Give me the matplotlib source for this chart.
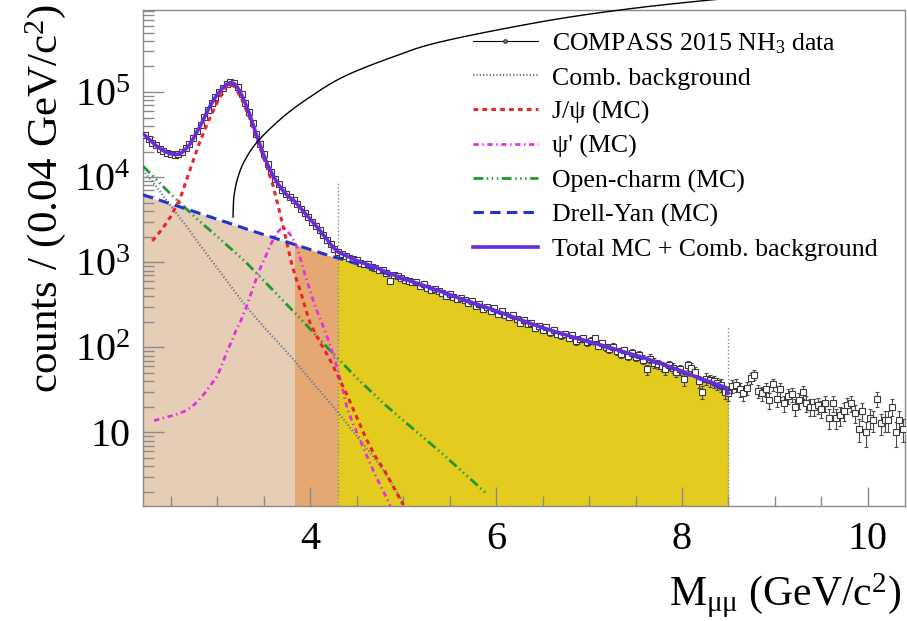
import numpy as np
import matplotlib
matplotlib.use("Agg")
import matplotlib.pyplot as plt
from matplotlib.lines import Line2D
from matplotlib.patches import Rectangle
from matplotlib.ticker import MultipleLocator, LogLocator, NullFormatter

plt.rcParams['font.family'] = ['Liberation Serif', 'DejaVu Serif']
plt.rcParams['mathtext.fontset'] = 'custom'
plt.rcParams['mathtext.rm'] = 'Liberation Serif'
plt.rcParams['mathtext.it'] = 'Liberation Serif:italic'
plt.rcParams['mathtext.bf'] = 'Liberation Serif:bold'
plt.rcParams['lines.scale_dashes'] = False

# ---------------- data ----------------
BIN_LO = 2.2
BIN_W = 0.04
counts = [
    31000, 28000, 25500, 23600, 21500, 20200, 19300, 18600, 18300, 18900,
    19800, 21800, 24500, 28800, 34500, 41000, 50500, 62000, 74500, 88000,
    101000, 113000, 124000, 130000, 127000, 114000, 94000, 75000, 58500, 43500,
    32000, 24300, 18500, 14300, 11600, 9600, 8200, 7100, 6350, 5800,
    5350, 4800, 4250, 3820, 3400, 3000, 2700, 2380, 2100, 1850,
    1640, 1430, 1310, 1240, 1190, 1120, 1080, 1060, 980, 960,
    950, 880, 860, 820, 815, 740, 600, 700, 690, 650,
    625, 600, 590, 580, 520, 560, 500, 470, 490, 455,
    430, 405, 420, 395, 375, 380, 365, 330, 350, 310,
    320, 285, 300, 270, 290, 250, 265, 240, 225, 240,
    215, 195, 210, 190, 195, 170, 180, 162, 172, 150,
    160, 145, 138, 145, 130, 140, 118, 126, 128, 115,
    120, 130, 105, 112, 100, 95, 102, 90, 84, 92,
    80, 86, 78, 82, 72, 55, 74, 66, 64, 60,
    55, 62, 58, 52, 55, 42, 62, 58, 52, 40,
    30, 43, 41, 40, 38, 36, 30, 29, 35, 36,
    32, 29, 33, 44, 48, 31, 29, 32, 24, 37,
    25, 32, 22, 27, 28, 20, 24, 30, 22, 20,
    20, 21, 19, 22, 15, 22, 15, 16, 18, 21,
    22, 17, 11, 18, 10, 15, 14, 25, 13, 14,
    14, 20, 10, 14, 11,
]

total_m = [2.20, 2.22, 2.26, 2.30, 2.34, 2.38, 2.42, 2.46, 2.50, 2.54, 2.58, 2.62,
           2.66, 2.70, 2.74, 2.78, 2.82, 2.86, 2.90, 2.94, 2.98, 3.02, 3.06, 3.10,
           3.14, 3.18, 3.22, 3.26, 3.30, 3.34, 3.38, 3.42, 3.46, 3.50, 3.54, 3.58,
           3.62, 3.66, 3.70, 3.74, 3.78, 3.82, 3.86, 3.90, 3.94, 3.98, 4.02, 4.06,
           4.10, 4.14, 4.18, 4.22, 4.26, 4.30, 4.40, 4.50, 4.60, 4.70, 4.80, 4.90,
           5.00, 5.20, 5.40, 5.60, 5.80, 6.00, 6.20, 6.40, 6.60, 6.80, 7.00, 7.20,
           7.40, 7.60, 7.80, 8.00, 8.20, 8.30, 8.40, 8.46, 8.50]
total_v = [32000, 30900, 28200, 25700, 23400, 21900, 20400, 19500, 18800, 18500, 18600, 19500,
           21400, 24000, 28200, 33900, 40700, 50100, 61700, 74100, 87100, 100000, 112000, 123000,
           129000, 126000, 112000, 93300, 74100, 57500, 42700, 31600, 24000, 18200, 14100, 11500,
           9550, 8130, 7080, 6310, 5750, 5370, 4790, 4270, 3800, 3390, 3020, 2690,
           2400, 2090, 1860, 1620, 1450, 1320, 1175, 1047, 955, 871, 785, 708,
           646, 543, 457, 380, 320, 269, 224, 186, 157, 135, 117, 101,
           87, 75, 63, 52.5, 43, 39.5, 36, 34, 29]

dy_m = [2.20, 2.60, 3.00, 3.40, 3.80, 4.20, 4.30, 4.60, 5.00, 5.40, 5.80, 6.20,
        6.60, 7.00, 7.40, 7.80, 8.20, 8.40, 8.50]
dy_v = [6200, 4470, 3200, 2290, 1660, 1200, 1120, 890, 630, 447, 313, 219,
        155, 115, 85, 61.7, 42.2, 34, 28]

oc_m = [2.20, 2.50, 2.80, 3.00, 3.30, 3.60, 3.90, 4.20, 4.50, 4.80, 5.10, 5.40, 5.70, 5.90]
oc_v = [13500, 6300, 3090, 2000, 1020, 468, 214, 95.5, 43.7, 21.4, 11.2, 5.9, 3.0, 1.9]

comb_m = [2.20, 2.35, 2.50, 2.67, 2.80, 3.00, 3.28, 3.50, 3.82, 4.00, 4.29, 4.50,
          4.68, 4.80, 4.90, 5.00]
comb_v = [12000, 7600, 4570, 2630, 1660, 851, 331, 174, 72, 41.7, 17.7, 9.1,
          5.2, 3.4, 2.3, 1.5]

jpsi_m = [2.30, 2.40, 2.50, 2.60, 2.70, 2.80, 2.90, 3.00, 3.05, 3.10, 3.14, 3.18,
          3.22, 3.26, 3.30, 3.35, 3.40, 3.45, 3.50, 3.55, 3.60, 3.65, 3.70, 3.75,
          3.80, 3.85, 3.90, 3.95, 4.00, 4.10, 4.20, 4.30, 4.40, 4.50, 4.60, 4.70,
          4.80, 4.90, 5.00]
jpsi_v = [1780, 2400, 3470, 5620, 11700, 24000, 44700, 75900, 95500, 115000, 123000, 117000,
          100000, 83200, 66100, 49000, 33900, 23400, 16600, 11700, 7940, 4790, 2880, 1660,
          955, 631, 437, 282, 191, 117, 75.9, 45.7, 26.9, 15.1, 8.5, 5.25,
          3.55, 2.24, 1.41]

psi2_m = [2.32, 2.45, 2.55, 2.65, 2.73, 2.80, 2.87, 2.93, 3.00, 3.05, 3.10, 3.16,
          3.20, 3.25, 3.32, 3.41, 3.47, 3.52, 3.58, 3.63, 3.68, 3.72, 3.76, 3.80,
          3.85, 3.90, 3.95, 4.00, 4.05, 4.10, 4.15, 4.20, 4.25, 4.30, 4.35, 4.40,
          4.50, 4.60, 4.70, 4.80, 4.86]
psi2_v = [13.8, 15.1, 16.2, 17.8, 20.2, 24, 29.5, 36.3, 46, 63, 87, 123,
          158, 202, 316, 603, 891, 1175, 1660, 2140, 2450, 2510, 2290, 2000,
          1585, 1047, 676, 457, 309, 224, 166, 117, 79.4, 52.5, 31.6, 18.6,
          10, 5.6, 3.16, 1.9, 1.38]

# mass-range regions (low / intermediate / high) and their boundary markers
region_edges = [(2.20, 3.82), (3.835, 4.30), (4.30, 8.50)]
region_colors = ['#E6CDB6', '#E5A872', '#E3CC1F']
marker_m = [4.30, 8.50]
marker_top = [8700, 177]

labels = ['COMPASS 2015 NH$_3$ data', 'Comb. background', 'J/\u03c8 (MC)',
          "\u03c8' (MC)", 'Open-charm (MC)', 'Drell-Yan (MC)',
          'Total MC + Comb. background']

XMIN, XMAX = 2.2, 10.4
YMIN, YMAX = 1.38, 9.2e5

# ---------------- figure ----------------
W, H = 907, 621
fig = plt.figure(figsize=(W / 100, H / 100), dpi=100)
ax = fig.add_axes([143 / W, 1 - 505.7 / H, (905 - 143) / W, (505.7 - 10) / H])
ax.set_yscale('log')
ax.set_xlim(XMIN, XMAX)
ax.set_ylim(YMIN, YMAX)

# filled Drell-Yan regions
for (a, b), col in zip(region_edges, region_colors):
    poly = ax.fill_between(dy_m, dy_v, YMIN, color=col, lw=0, zorder=1)
    clip = Rectangle((a, YMIN * 0.5), b - a, YMAX * 10, transform=ax.transData)
    poly.set_clip_path(clip)

for m, top in zip(marker_m, marker_top):
    ax.plot([m, m], [YMIN, top], color='#8a8a8a', ls=(0, (1.0, 1.6)), lw=1.0, zorder=2)

centers = BIN_LO + BIN_W * (np.arange(len(counts)) + 0.5)
cnt = np.array(counts, float)
ax.errorbar(centers, cnt, yerr=np.sqrt(cnt), fmt='s', ms=4.0, mfc='white',
            mec='#3a3a3a', mew=0.8, ecolor='#4a4a4a', elinewidth=0.8,
            capsize=1.6, capthick=0.8, zorder=3)

ax.plot(comb_m, comb_v, color='#6C7C8C', lw=1.6, ls=(0, (0.9, 1.5)), zorder=4)
ax.plot(oc_m, oc_v, color='#1E9B2E', lw=2.0,
        ls=(0, (7, 2.6, 1, 2.6, 1, 2.6, 1, 2.6)), zorder=4)
ax.plot(psi2_m, psi2_v, color='#E033E0', lw=2.0, ls=(0, (3.8, 2.6, 1, 2.6)), zorder=4)
ax.plot(jpsi_m, jpsi_v, color='#E8262B', lw=2.2, ls=(0, (3.4, 3.0)), zorder=5)
ax.plot(dy_m, dy_v, color='#2233CC', lw=2.2, ls=(0, (7.5, 4.5)), zorder=5)
ax.plot(total_m, total_v, color='#6A2BDB', lw=2.6, zorder=6)

# axes styling
for s in ax.spines.values():
    s.set_color('#8a8a8a')
    s.set_linewidth(1.0)
ax.set_xticks([4, 6, 8, 10])
ax.set_xticklabels(['4', '6', '8', '10'])
ax.xaxis.set_minor_locator(MultipleLocator(0.5))
ax.set_yticks([10, 1e2, 1e3, 1e4, 1e5])
ax.set_yticklabels(['10', '10$^{2}$', '10$^{3}$', '10$^{4}$', '10$^{5}$'])
ax.yaxis.set_minor_locator(LogLocator(base=10, subs=np.arange(2, 10)))
ax.yaxis.set_minor_formatter(NullFormatter())
ax.tick_params(axis='both', which='both', direction='in', color='#8a8a8a',
               labelcolor='black', top=False, right=False, labelsize=29)
ax.tick_params(axis='x', which='major', length=14, width=1.0, pad=11)
ax.tick_params(axis='x', which='minor', length=7, width=1.0)
ax.tick_params(axis='y', which='major', length=15, width=1.0, pad=9)
ax.tick_params(axis='y', which='minor', length=8, width=1.0)

fig.text(901 / W, 1 - 606 / H, r'M$_{\mathrm{\mu\mu}}$ (GeV/c$^{2}$)',
         ha='right', va='baseline', fontsize=30)
fig.text(46 / W, 1 - 4 / H, 'counts / (0.04 GeV/c$^{2}$)', rotation=90,
         ha='center', va='top', fontsize=31)

# legend
handles = [
    Line2D([], [], color='black', lw=0.8, marker='o', ms=2.5, mfc='#888888', mec='#444444'),
    Line2D([], [], color='#6C7C8C', lw=1.6, ls=(0, (0.9, 1.5))),
    Line2D([], [], color='#E8262B', lw=2.2, ls=(0, (3.4, 3.0))),
    Line2D([], [], color='#E033E0', lw=2.0, ls=(0, (3.8, 2.6, 1, 2.6))),
    Line2D([], [], color='#1E9B2E', lw=2.0, ls=(0, (7, 2.6, 1, 2.6, 1, 2.6, 1, 2.6))),
    Line2D([], [], color='#2233CC', lw=2.2, ls=(0, (7.5, 4.5))),
    Line2D([], [], color='#6A2BDB', lw=2.6),
]
leg = fig.legend(handles, labels, loc='upper left', bbox_to_anchor=(473 / W, 1 - 31 / H),
                 frameon=False, fontsize=18.6, borderpad=0, borderaxespad=0,
                 handlelength=2.5, handletextpad=0.55, labelspacing=0.42)

# decorative arc across the top of the plot
arc_px = np.array([(233, 217), (234, 196), (238, 177), (245, 160), (258, 141), (283, 117),
                   (310, 97), (343, 77), (390, 58), (440, 42), (540, 22), (620, 10),
                   (700, 1), (800, -8)], float)


def catmull(pts, n=24):
    P = np.vstack([2 * pts[0] - pts[1], pts, 2 * pts[-1] - pts[-2]])
    out = []
    t = np.linspace(0, 1, n, endpoint=False)[:, None]
    for i in range(1, len(P) - 2):
        p0, p1, p2, p3 = P[i - 1], P[i], P[i + 1], P[i + 2]
        out.append(0.5 * (2 * p1 + (-p0 + p2) * t + (2 * p0 - 5 * p1 + 4 * p2 - p3) * t ** 2
                          + (-p0 + 3 * p1 - 3 * p2 + p3) * t ** 3))
    out.append(P[-2][None])
    return np.vstack(out)


arc = catmull(arc_px)
fig.add_artist(Line2D(arc[:, 0] / W, 1 - arc[:, 1] / H, transform=fig.transFigure,
                      color='black', lw=1.0, zorder=10))

fig.savefig('out.png', dpi=100)
